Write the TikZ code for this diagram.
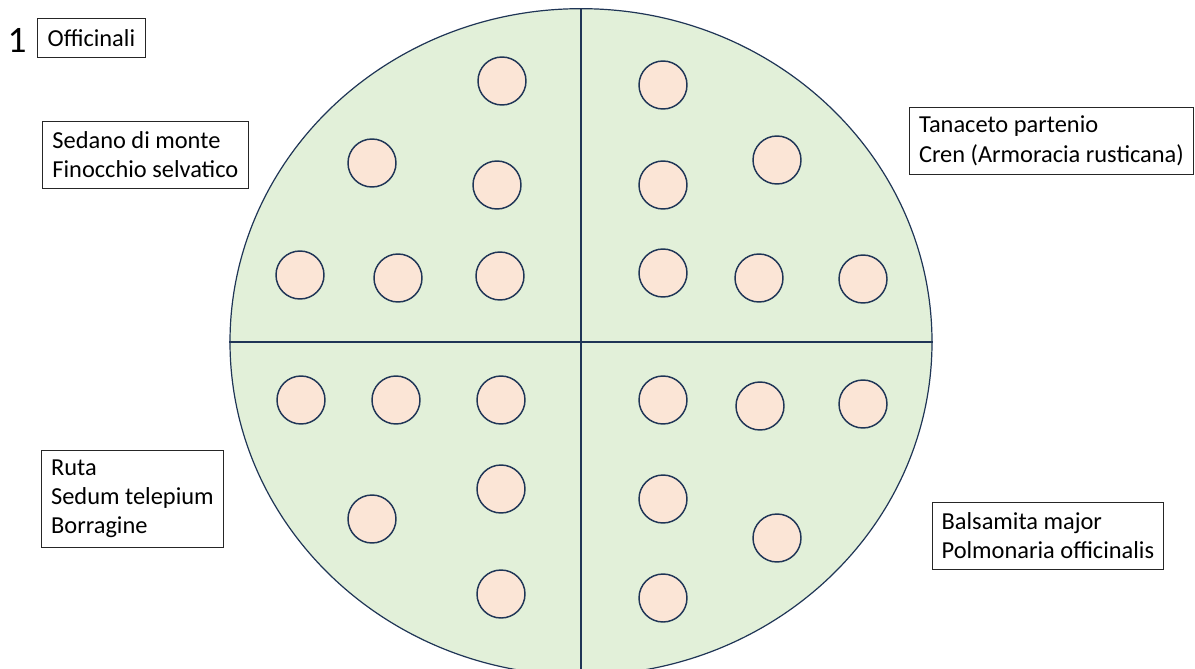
\documentclass[tikz,border=0pt]{standalone}
\usepackage{fontspec}
\setmainfont{Carlito}
\usetikzlibrary{shapes.geometric}
\definecolor{bedGreen}{HTML}{E2F0D9}
\definecolor{plantPeach}{HTML}{FBE5D6}
\definecolor{edgeNavy}{HTML}{1F3556}
\tikzset{
    bedshape/.style={
        ellipse,
        draw=edgeNavy,
        fill=bedGreen,
        line width=0.9pt,
        inner sep=0pt,
        minimum width=526.5pt,
        minimum height=500pt
    },
    plant/.style={
        circle,
        draw=edgeNavy,
        fill=plantPeach,
        line width=1.1pt,
        inner sep=0pt,
        minimum size=36pt
    },
    namebox/.style={
        draw=black!85,
        line width=0.6pt,
        align=left,
        anchor=north west,
        inner sep=0pt,
        font=\fontsize{18.3}{22}\selectfont
    }
}

\begin{document}
\begin{tikzpicture}[x=0.75pt, y=-0.75pt]
            \useasboundingbox (0,0) rectangle (1195,668);
            \clip (0,0) rectangle (1195,668);

            % Bed
            \node (bed) [bedshape] at (581,342) {};
            \draw [draw=edgeNavy, line width=0.9pt]
                (bed.north) -- (bed.south)
                (bed.west) -- (bed.east);

            % Plants
            \foreach \x/\y [count=\i] in {
                502/81, 372/163, 497/185, 300/275, 398/278, 500/276,
                663/85, 777/160, 663/185, 663/273, 759/278, 863/279,
                301/400, 396/400, 501/400, 501/489, 372/519, 501/594,
                663/400, 760/406, 863/404, 663/499, 777/538, 663/598}
                \node (p\i) [plant] at (\x,\y) {};

            % Labels
            \node (num) at (17,40) {\fontsize{28}{32}\selectfont 1};
            \node (off) [
                namebox,
                minimum width=81pt,
                minimum height=29.25pt,
            ] at (37,18) {Officinali};
            \node (sedano) [
                namebox,
                minimum width=154.5pt,
                minimum height=50.25pt,
            ] at (42,121) {Sedano di monte\\Finocchio selvatico};
            \node (tanaceto) [
                namebox,
                minimum width=213pt,
                minimum height=50.25pt,
            ] at (909,107) {Tanaceto partenio\\Cren (Armoracia rusticana)};
            \node (ruta) [
                namebox,
                minimum width=136.5pt,
                minimum height=72.75pt,
            ] at (41,450) {Ruta\\Sedum telepium\\Borragine};
            \node (balsamita) [
                namebox,
                minimum width=173.25pt,
                minimum height=50.25pt,
            ] at (932,502) {Balsamita major\\Polmonaria officinalis};
\end{tikzpicture}
\end{document}
